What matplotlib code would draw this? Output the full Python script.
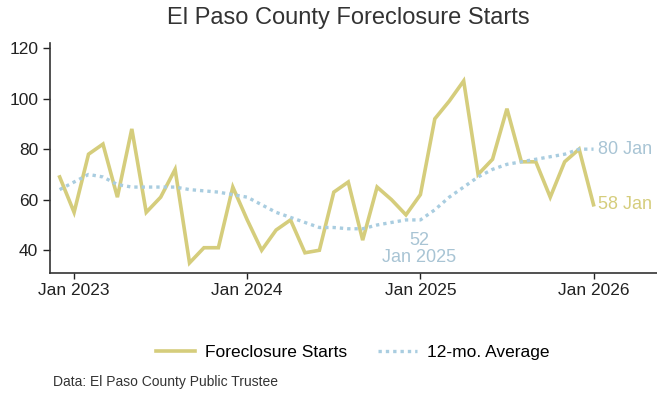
import matplotlib.pyplot as plt

plt.rcParams['font.family'] = ['Liberation Sans', 'DejaVu Sans']

# monthly foreclosure starts, Dec 2022 .. Jan 2026
months = ['Dec 2022',
          'Jan 2023', 'Feb 2023', 'Mar 2023', 'Apr 2023', 'May 2023', 'Jun 2023',
          'Jul 2023', 'Aug 2023', 'Sep 2023', 'Oct 2023', 'Nov 2023', 'Dec 2023',
          'Jan 2024', 'Feb 2024', 'Mar 2024', 'Apr 2024', 'May 2024', 'Jun 2024',
          'Jul 2024', 'Aug 2024', 'Sep 2024', 'Oct 2024', 'Nov 2024', 'Dec 2024',
          'Jan 2025', 'Feb 2025', 'Mar 2025', 'Apr 2025', 'May 2025', 'Jun 2025',
          'Jul 2025', 'Aug 2025', 'Sep 2025', 'Oct 2025', 'Nov 2025', 'Dec 2025',
          'Jan 2026']
starts = [69,
          55, 78, 82, 61, 88, 55, 61, 72, 35, 41, 41, 65,
          52, 40, 48, 52, 39, 40, 63, 67, 44, 65, 60, 54,
          62, 92, 99, 107, 70, 76, 96, 75, 75, 61, 75, 80,
          58]
avg12 = [64,
         67, 70, 69, 66, 65, 65, 65, 65, 64, 63.5, 63, 62,
         61, 58, 55, 53, 51, 49, 49, 48.5, 48.5, 50, 51, 52,
         52, 56, 61, 65, 69, 72, 74, 75, 76, 77, 78, 80,
         80]
tick_labels = ['Jan 2023', 'Jan 2024', 'Jan 2025', 'Jan 2026']

c_starts = '#d5cd7c'
c_avg = '#a9cde0'
c_note = '#a8c4d4'

x = list(range(len(months)))

fig = plt.figure(figsize=(6.57, 3.93), dpi=100)
ax = fig.add_axes([50/657, 1 - 273/393, 620/657, 230/393])

ax.plot(x, starts, color=c_starts, lw=2.6, label='Foreclosure Starts',
        solid_joinstyle='miter')
ax.plot(x, avg12, color=c_avg, lw=2.4, ls=(0, (1, 1.2)), label='12-mo. Average')

ax.set_xlim(-0.67, 42.3)
ax.set_ylim(31, 122)
ax.set_yticks([40, 60, 80, 100, 120])
ax.set_xticks([months.index(t) for t in tick_labels])
ax.set_xticklabels(tick_labels)
ax.tick_params(labelsize=12.5, colors='#222222', length=5, width=1)
ax.tick_params(axis='x', length=4)
for s in ['top', 'right']:
    ax.spines[s].set_visible(False)
for s in ['left', 'bottom']:
    ax.spines[s].set_color('#333333')
    ax.spines[s].set_linewidth(1.2)

# end-of-series labels
last = len(months) - 1
ax.annotate(f'{avg12[last]:.0f} Jan', (last, avg12[last]), xytext=(3.5, 0),
            textcoords='offset points', va='center', fontsize=13, color=c_note,
            annotation_clip=False)
ax.annotate(f'{starts[last]} Jan', (last, starts[last]), xytext=(3.5, 0),
            textcoords='offset points', va='center', fontsize=13, color=c_starts,
            annotation_clip=False)

i25 = months.index('Jan 2025')
ax.annotate(f'{avg12[i25]:.0f}\nJan 2025', (i25, avg12[i25]), xytext=(-1, -9),
            textcoords='offset points', ha='center', va='top', fontsize=13,
            color=c_note, linespacing=0.95)

fig.text(348/657, 1 - 18/393, 'El Paso County Foreclosure Starts', ha='center',
         va='center', fontsize=17, color='#333333')

fig.legend(loc='center', bbox_to_anchor=(353/657, 1 - 352/393), ncol=2,
           frameon=False, fontsize=12.5, handlelength=2.2, handletextpad=0.6,
           columnspacing=1.8)

fig.text(53/657, 1 - 382/393, 'Data: El Paso County Public Trustee', ha='left',
         va='center', fontsize=10, color='#333333')

fig.savefig('out.png', dpi=100, facecolor='white')
